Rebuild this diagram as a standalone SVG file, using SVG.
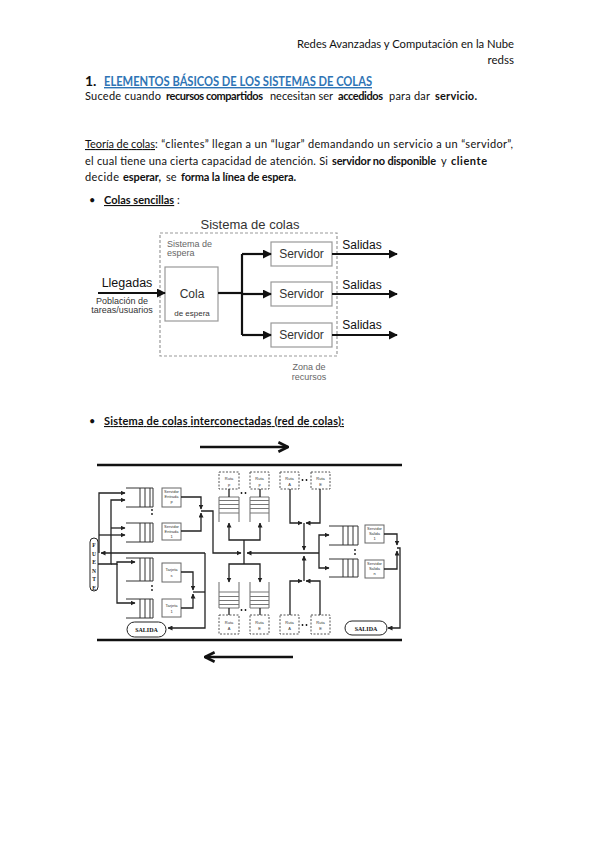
<svg xmlns="http://www.w3.org/2000/svg" width="599" height="848" viewBox="0 0 599 848">
<style>
.t{font-family:Lato,"Liberation Sans",sans-serif;fill:#111;font-size:11px}
.b{font-weight:bold}
.u{text-decoration:underline}
.d1{font-family:"Liberation Sans",Arial,sans-serif;fill:#333}
.dt{font-family:"Liberation Sans",Arial,sans-serif;fill:#111}
.g{font-family:"Liberation Sans",Arial,sans-serif;fill:#666;font-size:9px}
.box{fill:#fff;stroke:#999;stroke-width:1.2}
.arr{fill:none;stroke:#111;stroke-width:2.2}
.net{fill:none;stroke:#222;stroke-width:1.3}
.thick{fill:none;stroke:#111;stroke-width:2.4}
.stk{fill:none;stroke:#777;stroke-width:1.1}
.q{fill:none;stroke:#333;stroke-width:1}
.sv{fill:#fff;stroke:#666;stroke-width:1}
.dash{fill:#fff;stroke:#555;stroke-width:1;stroke-dasharray:2 1.5}
.tiny{font-family:"Liberation Sans",Arial,sans-serif;font-size:4px;fill:#333;text-anchor:middle}
.dot{fill:#111}
</style>
<defs>
<marker id="ah" viewBox="0 0 10 10" refX="9" refY="5" markerWidth="9" markerHeight="9" markerUnits="userSpaceOnUse" orient="auto"><path d="M0,0 L10,5 L0,10 z" fill="#111"/></marker>
<marker id="sa" viewBox="0 0 10 10" refX="9" refY="5" markerWidth="5" markerHeight="5" markerUnits="userSpaceOnUse" orient="auto"><path d="M0,0 L10,5 L0,10 z" fill="#222"/></marker>
<marker id="big" viewBox="0 0 10 10" refX="9" refY="5" markerWidth="12" markerHeight="12" markerUnits="userSpaceOnUse" orient="auto"><path d="M1,1 L9,5 L1,9" fill="none" stroke="#111" stroke-width="2.2"/></marker>
</defs>

<!-- header and text -->
<text class="t" x="514" y="48" style="font-size:11.5px" text-anchor="end" textLength="217" lengthAdjust="spacingAndGlyphs">Redes Avanzadas y Computación en la Nube</text>
<text class="t" x="514" y="64" style="font-size:11.5px" text-anchor="end">redss</text>
<text class="t" x="85" y="86" style="font-size:14px;font-weight:bold">1.</text>
<text class="t u" x="104" y="86" style="font-size:14px;font-weight:bold;fill:#2E74B5" textLength="268" lengthAdjust="spacingAndGlyphs">ELEMENTOS BÁSICOS DE LOS SISTEMAS DE COLAS</text>

<text class="t" x="85" y="100" textLength="76" lengthAdjust="spacing">Sucede cuando</text>
<text class="t b" x="166" y="100" textLength="97" lengthAdjust="spacing">recursos compartidos</text>
<text class="t" x="270" y="100" textLength="63" lengthAdjust="spacing">necesitan ser</text>
<text class="t b" x="338" y="100" textLength="45" lengthAdjust="spacing">accedidos</text>
<text class="t" x="389" y="100" textLength="41" lengthAdjust="spacing">para dar</text>
<text class="t b" x="435" y="100" textLength="42" lengthAdjust="spacing">servicio.</text>

<text class="t u" x="85" y="148" textLength="70" lengthAdjust="spacing">Teoría de colas</text>
<text class="t" x="155" y="148" textLength="358" lengthAdjust="spacing">: “clientes” llegan a un “lugar” demandando un servicio a un “servidor”,</text>

<text class="t" x="85" y="165" textLength="243" lengthAdjust="spacing">el cual tiene una cierta capacidad de atención. Si</text>
<text class="t b" x="332" y="165" textLength="104" lengthAdjust="spacing">servidor no disponible</text>
<text class="t" x="441" y="165">y</text>
<text class="t b" x="451" y="165" textLength="36" lengthAdjust="spacing">cliente</text>

<text class="t" x="85" y="181" textLength="34" lengthAdjust="spacing">decide</text>
<text class="t b" x="123" y="181" textLength="38" lengthAdjust="spacing">esperar,</text>
<text class="t" x="166" y="181">se</text>
<text class="t b" x="181" y="181" textLength="115" lengthAdjust="spacing">forma la línea de espera.</text>

<text class="t" x="89" y="204">•</text>
<text class="t u" x="104" y="204" style="font-weight:bold">Colas sencillas</text>
<text class="t" x="177" y="204">:</text>
<text class="t" x="89" y="425">•</text>
<text class="t u" x="104" y="425" style="font-weight:bold" textLength="240" lengthAdjust="spacing">Sistema de colas interconectadas (red de colas):</text>

<!-- diagram 1 -->
<g id="sistema">
<text class="d1" x="250" y="229" font-size="13" text-anchor="middle">Sistema de colas</text>
<rect x="160" y="233" width="177" height="123" fill="none" stroke="#999" stroke-width="1.2" stroke-dasharray="3 2"/>
<text class="g" x="167" y="247">Sistema de</text>
<text class="g" x="167" y="256">espera</text>
</g>
<g id="cola">
<rect class="box" x="165" y="267" width="53" height="54"/>
<text class="d1" x="192" y="298" font-size="12" text-anchor="middle">Cola</text>
<text class="d1" x="192" y="316" font-size="8" text-anchor="middle">de espera</text>
</g>
<g id="llegadas">
<text class="dt" x="127" y="287" text-anchor="middle" font-size="12.5">Llegadas</text>
<text class="d1" x="122" y="304" font-size="9" text-anchor="middle" fill="#555">Población de</text>
<text class="d1" x="122" y="313" font-size="9" text-anchor="middle" fill="#555">tareas/usuarios</text>
</g>
<g id="servidor1"><rect class="box" x="271" y="242" width="61" height="24"/><text class="d1" x="301.5" y="258" font-size="12" text-anchor="middle">Servidor</text></g>
<g id="servidor2"><rect class="box" x="271" y="282" width="61" height="24"/><text class="d1" x="301.5" y="298" font-size="12" text-anchor="middle">Servidor</text></g>
<g id="servidor3"><rect class="box" x="271" y="323" width="61" height="24"/><text class="d1" x="301.5" y="339" font-size="12" text-anchor="middle">Servidor</text></g>
<g id="salidas-labels">
<text class="dt" x="362" y="249" font-size="12" text-anchor="middle">Salidas</text>
<text class="dt" x="362" y="289" font-size="12" text-anchor="middle">Salidas</text>
<text class="dt" x="362" y="329" font-size="12" text-anchor="middle">Salidas</text>
<text class="g" x="309" y="370" text-anchor="middle">Zona de</text>
<text class="g" x="309" y="380" text-anchor="middle">recursos</text>
</g>
<g id="connectors1">
<path class="arr" d="M98,293 H165" marker-end="url(#ah)"/>
<path class="arr" d="M218,293 H242"/>
<path class="arr" d="M242,254 V335"/>
<path class="arr" d="M242,254 H271" marker-end="url(#ah)"/>
<path class="arr" d="M242,294 H271" marker-end="url(#ah)"/>
<path class="arr" d="M242,335 H271" marker-end="url(#ah)"/>
<path class="arr" d="M332,254 H397" marker-end="url(#ah)"/>
<path class="arr" d="M332,294 H397" marker-end="url(#ah)"/>
<path class="arr" d="M332,335 H397" marker-end="url(#ah)"/>
</g>

<!-- diagram 2 -->
<g id="frame2">
<path class="thick" d="M97,465 H402"/>
<path class="thick" d="M97,640 H402"/>
<path class="thick" d="M200,447 H288" marker-end="url(#big)"/>
<path class="thick" d="M293,657 H205" marker-end="url(#big)"/>
</g>
<g id="fuente">
<rect x="90" y="538" width="8" height="53" rx="4" fill="#fff" stroke="#222" stroke-width="1"/>
<g font-family="Liberation Serif,serif" font-size="5.5" font-weight="bold" text-anchor="middle" fill="#111">
<text x="94" y="547">F</text><text x="94" y="555.5">U</text><text x="94" y="564">E</text><text x="94" y="572.5">N</text><text x="94" y="581">T</text><text x="94" y="589.5">E</text>
</g>
</g>
<g id="colas-entrada">
<path class="q" d="M126,488 H153 V507 H126 M140,488 V507 M145,488 V507 M150,488 V507"/>
<path class="q" d="M126,523 H153 V542 H126 M140,523 V542 M145,523 V542 M150,523 V542"/>
<circle class="dot" cx="152" cy="510" r="0.9"/><circle class="dot" cx="152" cy="514" r="0.9"/>
<rect class="sv" x="162" y="488" width="19" height="19"/>
<text class="tiny" x="171.5" y="493" font-size="2.5">Servidor</text><text class="tiny" x="171.5" y="498">Entrada</text><text class="tiny" x="171.5" y="503">p</text>
<rect class="sv" x="162" y="523" width="19" height="17"/>
<text class="tiny" x="171.5" y="528" font-size="2.5">Servidor</text><text class="tiny" x="171.5" y="533">Entrada</text><text class="tiny" x="171.5" y="538">1</text>
</g>
<g id="colas-tarjeta">
<path class="q" d="M126,558 H153 V581 H126 M140,558 V581 M145,558 V581 M150,558 V581"/>
<path class="q" d="M126,599 H153 V618 H126 M140,599 V618 M145,599 V618 M150,599 V618"/>
<circle class="dot" cx="152" cy="586" r="0.9"/><circle class="dot" cx="152" cy="590" r="0.9"/>
<rect class="sv" x="162" y="563" width="19" height="19"/>
<text class="tiny" x="171.5" y="571">Tarjeta</text><text class="tiny" x="171.5" y="577">s</text>
<rect class="sv" x="162" y="599" width="19" height="18"/>
<text class="tiny" x="171.5" y="607">Tarjeta</text><text class="tiny" x="171.5" y="613">1</text>
</g>
<g id="salida-izq">
<rect x="127" y="622" width="39" height="15" rx="7.5" fill="#fff" stroke="#222" stroke-width="1"/>
<text x="146.5" y="632" font-family="Liberation Serif,serif" font-size="6" font-weight="bold" text-anchor="middle" fill="#111">SALIDA</text>
</g>
<g id="rutas-sup">
<rect class="dash" x="219" y="472" width="20" height="17"/><text class="tiny" x="229" y="480">Ruta</text><text class="tiny" x="229" y="486">p</text>
<rect class="dash" x="250" y="472" width="19" height="17"/><text class="tiny" x="259.5" y="480">Ruta</text><text class="tiny" x="259.5" y="486">p</text>
<rect class="dash" x="280" y="472" width="19" height="17"/><text class="tiny" x="289.5" y="480">Ruta</text><text class="tiny" x="289.5" y="486">A</text>
<rect class="dash" x="311" y="472" width="19" height="17"/><text class="tiny" x="320.5" y="480">Ruta</text><text class="tiny" x="320.5" y="486">E</text>
<circle class="dot" cx="241.5" cy="493" r="0.9"/><circle class="dot" cx="245.5" cy="493" r="0.9"/>
<circle class="dot" cx="302.5" cy="480" r="0.9"/><circle class="dot" cx="306.5" cy="480" r="0.9"/>
<path class="stk" d="M219,497 V522 M239,497 V522 M219,497 H239 M219,500.5 H239 M219,504.5 H239 M219,508.5 H239 M219,513 H239"/>
<path class="stk" d="M250,497 V522 M269,497 V522 M250,497 H269 M250,500.5 H269 M250,504.5 H269 M250,508.5 H269 M250,513 H269"/>
</g>
<g id="rutas-inf">
<path class="stk" d="M219,582 V608 M239,582 V608 M219,592 H239 M219,596.5 H239 M219,600.5 H239 M219,604.5 H239 M219,608 H239"/>
<path class="stk" d="M250,582 V608 M269,582 V608 M250,592 H269 M250,596.5 H269 M250,600.5 H269 M250,604.5 H269 M250,608 H269"/>
<rect class="dash" x="219" y="615" width="20" height="19"/><text class="tiny" x="229" y="624">Ruta</text><text class="tiny" x="229" y="630">A</text>
<rect class="dash" x="250" y="615" width="19" height="19"/><text class="tiny" x="259.5" y="624">Ruta</text><text class="tiny" x="259.5" y="630">E</text>
<rect class="dash" x="280" y="615" width="19" height="19"/><text class="tiny" x="289.5" y="624">Ruta</text><text class="tiny" x="289.5" y="630">A</text>
<rect class="dash" x="311" y="615" width="19" height="19"/><text class="tiny" x="320.5" y="624">Ruta</text><text class="tiny" x="320.5" y="630">E</text>
<circle class="dot" cx="241.5" cy="610" r="0.9"/><circle class="dot" cx="245.5" cy="610" r="0.9"/>
<circle class="dot" cx="302.5" cy="625" r="0.9"/><circle class="dot" cx="306.5" cy="625" r="0.9"/>
</g>
<g id="colas-salida">
<path class="q" d="M329,526 H358 V545 H329 M343,526 V545 M348,526 V545 M353,526 V545"/>
<path class="q" d="M329,559 H358 V577 H329 M343,559 V577 M348,559 V577 M353,559 V577"/>
<circle class="dot" cx="355" cy="550" r="0.9"/><circle class="dot" cx="355" cy="554" r="0.9"/>
<rect class="sv" x="365" y="525" width="19" height="18"/>
<text class="tiny" x="374.5" y="530" font-size="2.5">Servidor</text><text class="tiny" x="374.5" y="535">Salida</text><text class="tiny" x="374.5" y="540">1</text>
<rect class="sv" x="365" y="560" width="19" height="18"/>
<text class="tiny" x="374.5" y="565" font-size="2.5">Servidor</text><text class="tiny" x="374.5" y="570">Salida</text><text class="tiny" x="374.5" y="575">n</text>
</g>
<g id="salida-der">
<rect x="345" y="621" width="42" height="14" rx="7" fill="#fff" stroke="#222" stroke-width="1"/>
<text x="366" y="630.5" font-family="Liberation Serif,serif" font-size="6" font-weight="bold" text-anchor="middle" fill="#111">SALIDA</text>
</g>
<g id="connectors2">
<path class="net" d="M99,553 V493 H125" marker-end="url(#sa)"/>
<path class="net" d="M99,535 H125" marker-end="url(#sa)"/>
<path class="net" d="M98,564 H111 V500 H125" marker-end="url(#sa)"/>
<path class="net" d="M111,528 H125" marker-end="url(#sa)"/>
<path class="net" d="M111,564 H117 V562 H135" marker-end="url(#sa)"/>
<path class="net" d="M117,564 V603 H135" marker-end="url(#sa)"/>
<path class="net" d="M181,497 H201 V509" marker-end="url(#sa)"/>
<path class="net" d="M181,531 H201 V513" marker-end="url(#sa)"/>
<path class="net" d="M201,511 H213 V553 H241" marker-end="url(#sa)"/>
<path class="net" d="M181,572 H193 V590" marker-end="url(#sa)"/>
<path class="net" d="M181,608 H193 V594" marker-end="url(#sa)"/>
<path class="net" d="M193,592 H205"/>
<path class="net" d="M205,553 V628 H168" marker-end="url(#sa)"/>
<path class="net" d="M205,553 H101" marker-end="url(#sa)"/>
<path class="net" d="M229,489 V497 M260,489 V497 M229,608 V615 M260,608 V615"/>
<path class="net" d="M244,540 V564"/>
<path class="net" d="M244,540 H229 V523" marker-end="url(#sa)"/>
<path class="net" d="M244,540 H260 V523" marker-end="url(#sa)"/>
<path class="net" d="M244,564 H229 V582" marker-end="url(#sa)"/>
<path class="net" d="M244,564 H260 V582" marker-end="url(#sa)"/>
<path class="net" d="M319,553 H247" marker-end="url(#sa)"/>
<path class="net" d="M290,489 V523 H302" marker-end="url(#sa)"/>
<path class="net" d="M320,489 V523 H306" marker-end="url(#sa)"/>
<path class="net" d="M304,523 V550" marker-end="url(#sa)"/>
<path class="net" d="M290,615 V581 H302" marker-end="url(#sa)"/>
<path class="net" d="M320,615 V581 H306" marker-end="url(#sa)"/>
<path class="net" d="M304,581 V556" marker-end="url(#sa)"/>
<path class="net" d="M319,553 V535 H329" marker-end="url(#sa)"/>
<path class="net" d="M319,553 V568 H329" marker-end="url(#sa)"/>
<path class="net" d="M384,534 H397 V545" marker-end="url(#sa)"/>
<path class="net" d="M384,569 H397 V551" marker-end="url(#sa)"/>
<path class="net" d="M397,548 H400 V628 H388" marker-end="url(#sa)"/>
</g>
</svg>
